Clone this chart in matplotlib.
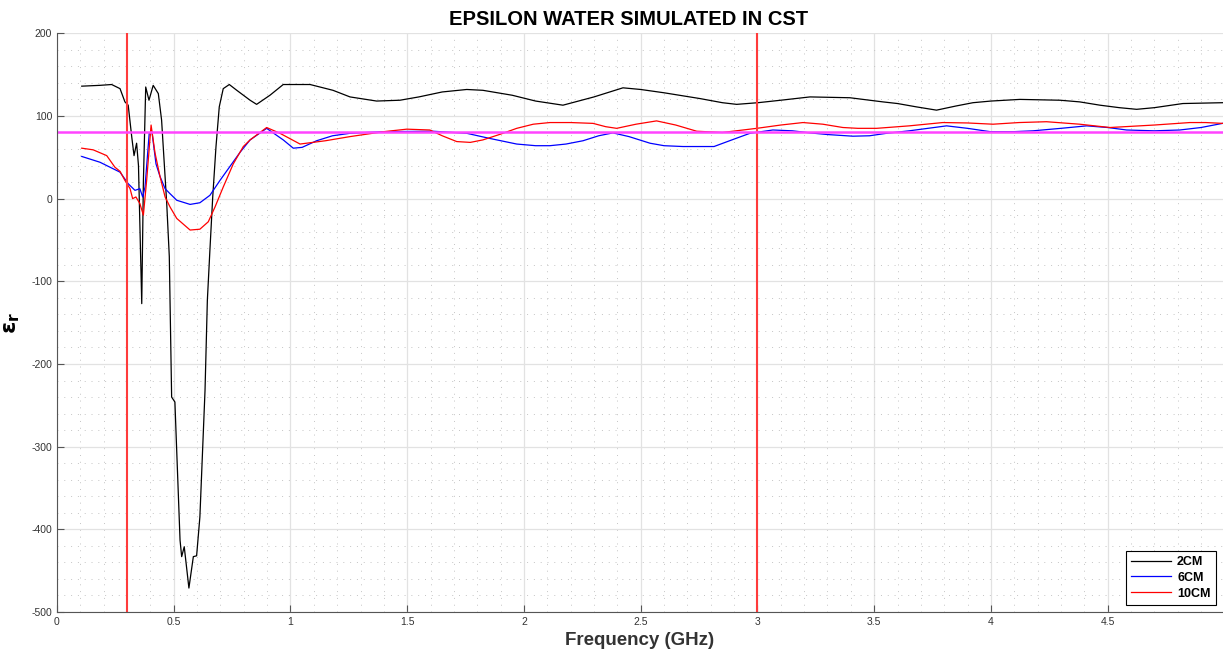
import numpy as np
import matplotlib
matplotlib.use('Agg')
import matplotlib.pyplot as plt
from matplotlib.ticker import MultipleLocator

plt.rcParams['font.family'] = ['Liberation Sans', 'DejaVu Sans']
plt.rcParams['axes.unicode_minus'] = False

# 2CM
f_2cm = [0.106, 0.184, 0.234, 0.270, 0.291, 0.305, 0.320, 0.330, 0.341, 0.349, 0.363, 0.370,
         0.380, 0.394, 0.412, 0.434, 0.448, 0.470, 0.481, 0.491, 0.505, 0.527, 0.534, 0.545,
         0.565, 0.584, 0.598, 0.612, 0.634, 0.644, 0.655, 0.667, 0.681, 0.695, 0.712, 0.738,
         0.770, 0.827, 0.855, 0.912, 0.969, 1.084, 1.182, 1.255, 1.369, 1.469, 1.55, 1.65,
         1.755, 1.824, 1.95, 2.05, 2.167, 2.3, 2.424, 2.5, 2.6, 2.754, 2.85, 2.911, 3.002,
         3.1, 3.225, 3.396, 3.537, 3.6, 3.68, 3.767, 3.85, 3.923, 4.0, 4.124, 4.296, 4.38,
         4.467, 4.55, 4.624, 4.7, 4.822, 4.992]
e_2cm = [136, 137, 138, 133, 117, 113, 75, 52, 67, 40, -127, 20,
         135, 119, 137, 127, 95, -6, -70, -240, -246, -413, -433, -421,
         -471, -433, -432, -385, -232, -123, -62, 2, 63, 111, 133, 138,
         131, 119, 114, 125, 138, 138, 131, 123, 118, 119, 123, 129,
         132, 131, 125, 118, 113, 123, 134, 132, 128, 121, 116, 114, 116,
         119, 123, 122, 117, 115, 111, 107, 112, 116, 118, 120, 119, 117,
         113, 110, 108, 110, 115, 116]

# 6CM
f_6cm = [0.106, 0.184, 0.227, 0.270, 0.305, 0.334, 0.355, 0.367, 0.377, 0.395, 0.407, 0.424,
         0.441, 0.463, 0.484, 0.513, 0.570, 0.612, 0.655, 0.698, 0.741, 0.784, 0.827, 0.898,
         0.969, 1.012, 1.05, 1.112, 1.18, 1.255, 1.4, 1.610, 1.755, 1.85, 1.969, 2.05, 2.111,
         2.18, 2.253, 2.32, 2.381, 2.45, 2.540, 2.6, 2.681, 2.814, 2.9, 2.968, 3.066, 3.15,
         3.225, 3.3, 3.409, 3.48, 3.553, 3.65, 3.810, 3.9, 3.996, 4.1, 4.180, 4.3, 4.410,
         4.5, 4.581, 4.7, 4.809, 4.9, 4.992]
e_6cm = [51, 44, 38, 32, 18, 10, 12, 2, 14, 79, 80, 42,
         27, 12, 6, -2, -7, -5, 4, 22, 39, 56, 71, 85,
         71, 61, 62, 70, 76, 79, 81, 81.5, 79, 73, 66, 64, 64,
         66, 70, 76, 79.5, 75, 67, 64, 63, 63, 72, 79, 83, 82,
         79.5, 77.5, 75.5, 76, 79, 82, 88, 85, 81, 81, 82, 85, 88,
         86, 83, 82, 83, 86, 91]

# 10CM
f_10cm = [0.106, 0.155, 0.213, 0.248, 0.270, 0.291, 0.313, 0.324, 0.338, 0.355, 0.370, 0.384,
          0.403, 0.420, 0.441, 0.463, 0.484, 0.513, 0.570, 0.612, 0.648, 0.677, 0.712, 0.755,
          0.798, 0.827, 0.898, 0.955, 1.041, 1.15, 1.255, 1.4, 1.498, 1.597, 1.65, 1.712,
          1.77, 1.824, 1.9, 1.969, 2.04, 2.111, 2.2, 2.296, 2.35, 2.397, 2.48, 2.568, 2.65,
          2.740, 2.85, 2.997, 3.1, 3.195, 3.28, 3.366, 3.43, 3.510, 3.65, 3.794, 3.9, 4.009,
          4.12, 4.238, 4.38, 4.510, 4.7, 4.852, 4.92, 4.992]
e_10cm = [61, 59, 52, 38, 33, 22, 12, 0, 2, -6, -20, 22,
          89, 55, 27, 2, -10, -24, -38, -37, -28, -10, 14, 42,
          63, 71, 86, 79, 66, 70, 75, 81, 84, 83, 76, 69,
          68, 71, 78, 85, 90, 92, 92, 91, 87, 85, 90, 94, 89,
          81.5, 80, 85, 89, 92, 90, 86, 85, 85, 88, 92, 91.5, 90,
          92, 93, 90, 86, 89, 92, 92, 91]

f_marks = [0.3, 3.0]
eps_water = 80

fig = plt.figure(figsize=(12.23, 6.52), dpi=100)
ax = fig.add_axes([0.0466, 0.0613, 0.9534, 0.8877])

ax.plot(f_2cm, e_2cm, color='black', lw=0.9, label='2CM')
ax.plot(f_6cm, e_6cm, color='blue', lw=0.9, label='6CM')
ax.plot(f_10cm, e_10cm, color='red', lw=0.9, label='10CM')
for fm in f_marks:
    ax.axvline(fm, color='#ff3b3b', lw=1.5)
ax.axhline(eps_water, color='#ff44ff', lw=1.8)

ax.set_xlim(0, 4.994)
ax.set_ylim(-500, 200)
ax.xaxis.set_minor_locator(MultipleLocator(0.1))
ax.yaxis.set_major_locator(MultipleLocator(100))
ax.yaxis.set_minor_locator(MultipleLocator(20))
ax.set_xticks(np.arange(0, 4.6, 0.5))
ax.set_xticklabels(['0', '0.5', '1', '1.5', '2', '2.5', '3', '3.5', '4', '4.5'])
ax.grid(which='major', color='#e2e2e2', lw=0.9, ls='-')
ax.grid(which='minor', color='#c4c4c4', lw=0.7, ls=(0, (1, 6)))
ax.set_axisbelow(True)

for s in ['top', 'right']:
    ax.spines[s].set_visible(False)
for s in ['left', 'bottom']:
    ax.spines[s].set_color('#555555')
ax.tick_params(which='both', direction='in', labelsize=7.5, colors='#555555', labelcolor='#333333')
ax.tick_params(which='major', length=5)
ax.tick_params(which='minor', length=0)

ax.set_title('EPSILON WATER SIMULATED IN CST', fontsize=14.5, fontweight='bold', pad=6, x=0.49)
ax.set_xlabel('Frequency (GHz)', fontsize=13.5, fontweight='bold', color='#333333', labelpad=4)
ax.set_ylabel(r'$\mathbf{\epsilon_r}$', fontsize=16)
ax.yaxis.set_label_coords(-0.03, 0.5)

leg = ax.legend(loc='lower right', prop={'weight': 'bold', 'size': 9},
                fancybox=False, framealpha=1, edgecolor='black', handlelength=3.2,
                handletextpad=0.5, borderaxespad=0.6, borderpad=0.4, labelspacing=0.3)
leg.get_frame().set_linewidth(0.8)

fig.savefig('out.png', dpi=100)
